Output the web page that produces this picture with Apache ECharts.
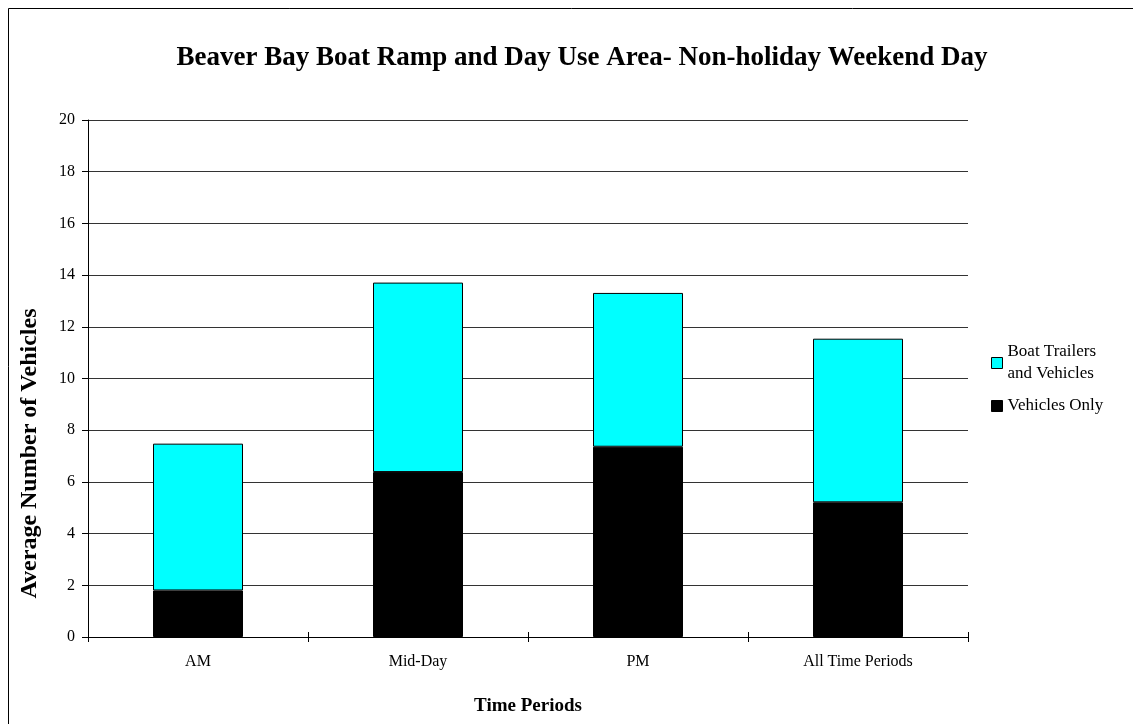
<!DOCTYPE html>
<html>
<head>
<meta charset="utf-8">
<script src="https://cdn.jsdelivr.net/npm/echarts@6/dist/echarts.min.js"></script>
<style>
html,body{margin:0;padding:0;background:#fff;}
#chart{width:1133px;height:724px;}
</style>
</head>
<body>
<div id="chart"></div>
<script>
const categories = ['AM', 'Mid-Day', 'PM', 'All Time Periods'];
const vehiclesOnly = [1.8, 6.38, 7.36, 5.21];
const boatTrailers = [5.68, 7.33, 5.95, 6.33];
const yTicks = [0, 2, 4, 6, 8, 10, 12, 14, 16, 18, 20];
const titleText = 'Beaver Bay Boat Ramp and Day Use Area- Non-holiday Weekend Day';
const yName = 'Average Number of Vehicles';
const xName = 'Time Periods';
const seriesNames = ['Boat Trailers and Vehicles', 'Vehicles Only'];

const FONT = '"Liberation Serif", "Times New Roman", serif';
const chart = echarts.init(document.getElementById('chart'));
chart.setOption({
  animation: false,
  backgroundColor: '#fff',
  title: {
    text: titleText,
    left: 577,
    textAlign: 'center',
    top: 40,
    textStyle: {fontFamily: FONT, fontWeight: 'bold', fontSize: 27, color: '#000'}
  },
  graphic: [{
    type: 'rect',
    shape: {x: 8.5, y: 8.5, width: 1140, height: 730},
    style: {fill: 'none', stroke: '#000', lineWidth: 1},
    silent: true
  }],
  legend: {
    orient: 'vertical',
    left: 986,
    top: 336,
    icon: 'rect',
    itemWidth: 11,
    itemHeight: 11,
    itemGap: 10,
    data: [seriesNames[0], seriesNames[1]],
    formatter: function (n) { return n === seriesNames[0] ? 'Boat Trailers\nand Vehicles' : n; },
    textStyle: {fontFamily: FONT, fontSize: 17, color: '#000', lineHeight: 22},
    itemStyle: {borderColor: '#000', borderWidth: 1}
  },
  grid: {left: 88, right: 165, top: 120, bottom: 87},
  xAxis: [{
    type: 'category',
    data: categories,
    name: xName,
    nameLocation: 'middle',
    nameGap: 60,
    nameTextStyle: {fontFamily: FONT, fontWeight: 'bold', fontSize: 19, color: '#000'},
    axisLine: {lineStyle: {color: '#000', width: 1}},
    axisTick: {show: true, length: 5, lineStyle: {color: '#000'}},
    axisLabel: {fontFamily: FONT, fontSize: 16, color: '#000', margin: 17}
  }, {
    type: 'category',
    data: categories,
    position: 'bottom',
    axisLine: {show: false},
    axisTick: {show: true, inside: true, length: 5, lineStyle: {color: '#000'}},
    axisLabel: {show: false}
  }],
  yAxis: {
    type: 'value',
    min: yTicks[0],
    max: yTicks[yTicks.length - 1],
    interval: 2,
    name: yName,
    nameLocation: 'middle',
    nameGap: 46,
    nameTextStyle: {fontFamily: FONT, fontWeight: 'bold', fontSize: 24, color: '#000', padding: [0, 150, 0, 0]},
    axisLine: {show: true, lineStyle: {color: '#000', width: 1}},
    axisTick: {show: true, length: 6, lineStyle: {color: '#000'}},
    axisLabel: {fontFamily: FONT, fontSize: 16, color: '#000', margin: 13},
    splitLine: {show: true, lineStyle: {color: '#333', width: 1}}
  },
  series: [
    {
      name: seriesNames[1],
      type: 'bar',
      stack: 'total',
      data: vehiclesOnly,
      barWidth: 90,
      itemStyle: {color: '#000', borderColor: '#000', borderWidth: 1}
    },
    {
      name: seriesNames[0],
      type: 'bar',
      stack: 'total',
      data: boatTrailers,
      barWidth: 90,
      itemStyle: {color: '#00ffff', borderColor: '#000', borderWidth: 1}
    }
  ]
});
</script>
</body>
</html>
